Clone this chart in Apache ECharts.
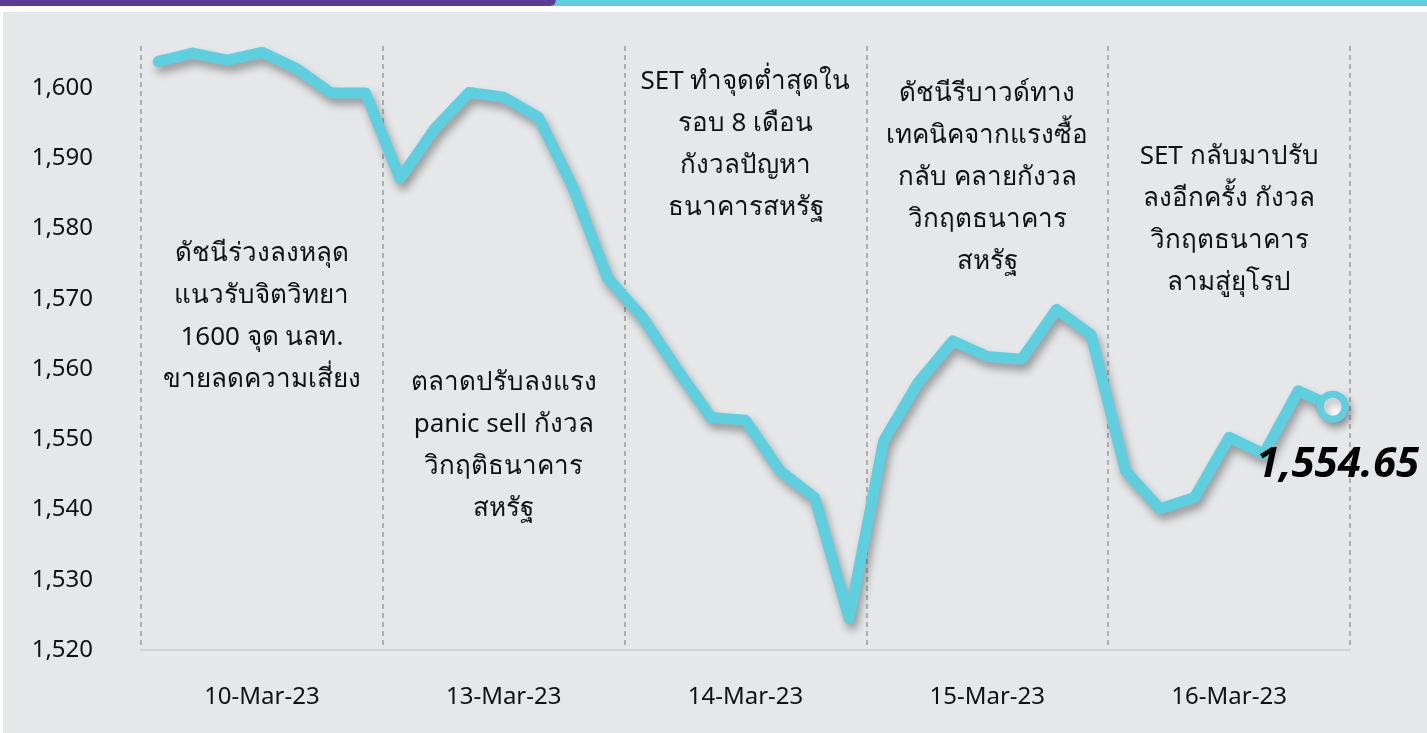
<!DOCTYPE html>
<html>
<head>
<meta charset="utf-8">
<script src="https://cdn.jsdelivr.net/npm/echarts@6/dist/echarts.min.js"></script>
<style>
  html, body { margin: 0; padding: 0; background: #fff; }
  #main { width: 1427px; height: 733px; }
</style>
</head>
<body>
<div id="main"></div>
<script>
// วันซื้อขาย (7 จุดต่อวัน)
var days = ['10-Mar-23', '13-Mar-23', '14-Mar-23', '15-Mar-23', '16-Mar-23'];
var pointsPerDay = 7;

// ดัชนี SET
var setIndex = [
  1603.8, 1605.0, 1604.0, 1605.1, 1602.8, 1599.3, 1599.3,
  1587.1, 1594.2, 1599.4, 1598.7, 1595.9, 1585.9, 1573.0,
  1567.5, 1560.1, 1553.1, 1552.7, 1545.5, 1541.7, 1524.5,
  1549.8, 1558.1, 1564.0, 1561.8, 1561.4, 1568.5, 1564.9,
  1545.5, 1540.1, 1541.7, 1550.3, 1547.9, 1556.9, 1554.65
];

// แกน y
var yMin = 1520;
var yMax = 1606;
var yStep = 10;

// คำอธิบายแต่ละวัน
var notes = [
  ['ดัชนีร่วงลงหลุด', 'แนวรับจิตวิทยา', '1600 จุด นลท.', 'ขายลดความเสี่ยง'],
  ['ตลาดปรับลงแรง', 'panic sell กังวล', 'วิกฤติธนาคาร', 'สหรัฐ'],
  ['SET ทำจุดต่ำสุดใน', 'รอบ 8 เดือน', 'กังวลปัญหา', 'ธนาคารสหรัฐ'],
  ['ดัชนีรีบาวด์ทาง', 'เทคนิคจากแรงซื้อ', 'กลับ คลายกังวล', 'วิกฤตธนาคาร', 'สหรัฐ'],
  ['SET กลับมาปรับ', 'ลงอีกครั้ง กังวล', 'วิกฤตธนาคาร', 'ลามสู่ยุโรป']
];

var categories = [];
days.forEach(function (d) {
  for (var i = 0; i < pointsPerDay; i++) categories.push(d + ' #' + (i + 1));
});

var FONT = '"Noto Sans", sans-serif';
var lineColor = '#5ecfdf';

var seriesData = setIndex.map(function (v, i) {
  if (i < setIndex.length - 1) return v;
  return {
    value: v,
    symbol: 'circle',
    symbolSize: 25,
    itemStyle: {
      color: '#ffffff',
      borderColor: lineColor,
      borderWidth: 7,
      shadowColor: 'rgba(0,0,0,0.3)',
      shadowBlur: 8,
      shadowOffsetX: 3,
      shadowOffsetY: 5
    },
    label: {
      show: true,
      position: 'bottom',
      distance: 20,
      offset: [5, 1],
      color: '#000',
      fontFamily: FONT,
      fontSize: 42,
      fontWeight: 'bold',
      fontStyle: 'italic',
      formatter: function (p) {
        return p.value.toLocaleString('en-US', { minimumFractionDigits: 2 });
      }
    }
  };
});

var chart = echarts.init(document.getElementById('main'));
var option = {
  backgroundColor: '#e6e7e9',
  animation: false,
  grid: { left: 141, right: 77, top: 46, bottom: 83 },
  xAxis: [
    {
      type: 'category',
      data: categories,
      boundaryGap: true,
      axisLine: { show: true, lineStyle: { color: '#d2d3d5', width: 2 } },
      axisTick: { show: false },
      splitLine: { show: false },
      axisLabel: {
        interval: function (idx) { return idx % pointsPerDay === 3; },
        formatter: function (v) { return v.split(' ')[0]; },
        color: '#111',
        fontFamily: FONT,
        fontSize: 24,
        margin: 35
      }
    },
    {
      // เส้นประแบ่งวัน
      type: 'value',
      position: 'bottom',
      min: 0,
      max: categories.length,
      interval: pointsPerDay,
      axisLine: { show: false },
      axisTick: { show: false },
      axisLabel: { show: false },
      splitLine: { show: true, lineStyle: { color: '#9c9c9e', width: 1.5, type: [5, 4] } }
    }
  ],
  yAxis: {
    type: 'value',
    min: yMin,
    max: yMax,
    interval: yStep,
    axisLine: { show: false },
    axisTick: { show: false },
    splitLine: { show: false },
    axisLabel: {
      showMaxLabel: false,
      margin: 48,
      color: '#111',
      fontFamily: FONT,
      fontSize: 24,
      formatter: function (v) {
        return v % yStep === 0 ? v.toLocaleString('en-US') : '';
      }
    }
  },
  series: [
    {
      type: 'line',
      xAxisIndex: 0,
      data: seriesData,
      symbol: 'none',
      lineStyle: {
        color: lineColor,
        width: 11,
        cap: 'round',
        join: 'round',
        shadowColor: 'rgba(0,0,0,0.35)',
        shadowBlur: 8,
        shadowOffsetX: 3,
        shadowOffsetY: 6
      },
      z: 5
    }
  ]
};
chart.setOption(option);

// แถบด้านบน + คำอธิบาย
var graphics = [
  { type: 'rect', shape: { x: 0, y: 0, width: 1427, height: 12 }, style: { fill: '#ffffff' }, z: 1 },
  { type: 'rect', shape: { x: 0, y: 0, width: 3, height: 733 }, style: { fill: '#ffffff' }, z: 1 },
  { type: 'rect', shape: { x: 540, y: 0, width: 887, height: 6 }, style: { fill: '#5ccfe0' }, z: 2 },
  { type: 'rect', shape: { x: 0, y: 0, width: 556, height: 6, r: [0, 0, 6, 0] }, style: { fill: '#5a3b98' }, z: 3 }
];
var noteTop = [233, 362, 61, 73, 136];
notes.forEach(function (lines, d) {
  var cx = chart.convertToPixel({ xAxisIndex: 0 }, categories[d * pointsPerDay + 3]);
  graphics.push({
    type: 'text',
    x: cx,
    y: noteTop[d],
    z: 10,
    style: {
      text: lines.join('\n'),
      fill: '#111',
      font: '26px ' + FONT,
      lineHeight: 42,
      align: 'center',
      verticalAlign: 'top'
    }
  });
});
chart.setOption({ graphic: graphics });
</script>
</body>
</html>
